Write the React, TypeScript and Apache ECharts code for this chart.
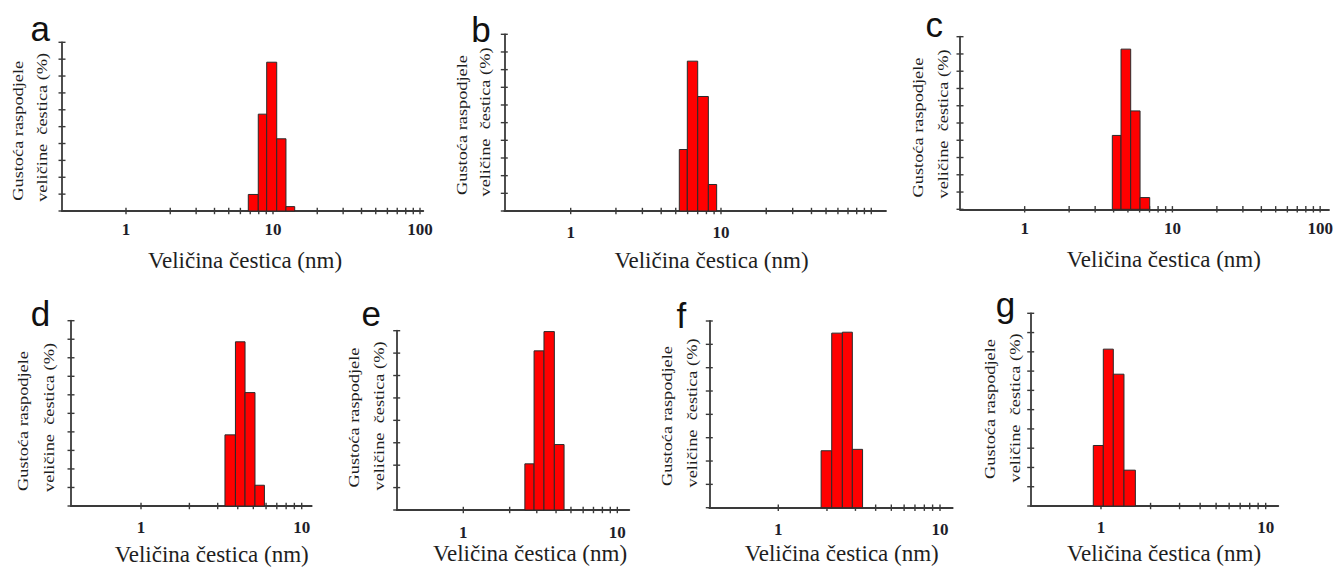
import React, { useEffect, useRef } from "react";
import * as echarts from "echarts";

// ---- data ----
const panelLetters = ["a", "b", "c", "d", "e", "f", "g"];

const binEdgesA = [6.79, 7.94, 9.06, 10.6, 12.25, 14.05];
const densityA = [4.9, 28.7, 44.1, 21.4, 1.3];

const binEdgesB = [5.28, 5.97, 7.0, 8.24, 9.36];
const densityB = [17.4, 42.4, 32.4, 7.5];

const binEdgesC = [3.92, 4.49, 5.22, 6.04, 7.02];
const densityC = [21.4, 46.4, 28.5, 3.4];

const binEdgesD = [3.33, 3.87, 4.44, 5.12, 5.86];
const densityD = [19.2, 44.3, 30.6, 5.6];

const binEdgesE = [2.51, 2.88, 3.34, 3.9, 4.51];
const densityE = [10.3, 35.5, 39.8, 14.6];

const binEdgesF = [1.84, 2.14, 2.49, 2.87, 3.32];
const densityF = [12.2, 37.4, 37.6, 12.5];

const binEdgesG = [0.898, 1.033, 1.188, 1.379, 1.617];
const densityG = [15.7, 40.7, 34.2, 9.3];

const xTickValues = [1, 2, 3, 4, 5, 6, 7, 8, 9, 10, 20, 30, 40, 50, 60, 70, 80, 90, 100];
const yTicks50 = [0, 5, 10, 15, 20, 25, 30, 35, 40, 45, 50];
const yTicks40 = [0, 5, 10, 15, 20, 25, 30, 35, 40];

const xLabelsA = [1, 10, 100];
const xLabelsB = [1, 10];
const xLabelsC = [1, 10, 100];
const xLabelsD = [1, 10];
const xLabelsE = [1, 10];
const xLabelsF = [1, 10];
const xLabelsG = [1, 10];

const yNameLine1 = "Gustoća raspodjele";
const yNameLine2 = "veličine  čestica (%)";
const xName = "Veličina čestica (nm)";

// ---- layout (pixels) ----
const layouts = [
  { left: 62, top: 42.3, right: 423.3, bottom: 211, xMin: 0.367, xMax: 105.3, yMax: 50, margin: 9.5,
    letter: [30.4, 28], yn: [18, 130.8, 42, 127.3], xn: [245, 260] },
  { left: 504.3, top: 34.3, right: 886, bottom: 211, xMin: 0.3616, xMax: 125.3, yMax: 50, margin: 13,
    letter: [471.2, 29], yn: [462.3, 125, 485.7, 122], xn: [711.5, 260] },
  { left: 960, top: 36.7, right: 1329, bottom: 209.3, xMin: 0.365, xMax: 114.8, yMax: 50, margin: 11,
    letter: [925.6, 24.5], yn: [918, 127.5, 943, 124], xn: [1163.8, 259.5] },
  { left: 71, top: 320.7, right: 311.7, bottom: 506, xMin: 0.3667, xMax: 11.54, yMax: 50, margin: 13,
    letter: [30.8, 313], yn: [23, 421, 49, 417.5], xn: [211.7, 554.5] },
  { left: 396.7, top: 330.7, right: 629.3, bottom: 510, xMin: 0.3694, xMax: 11.96, yMax: 40, margin: 14,
    letter: [361.6, 313], yn: [354.5, 417.5, 379, 416], xn: [530, 553.5] },
  { left: 709.3, top: 321, right: 952.7, bottom: 507.7, xMin: 0.3745, xMax: 11.98, yMax: 40, margin: 12.8,
    letter: [676.5, 315], yn: [667, 416, 692.3, 413], xn: [841.7, 553.5] },
  { left: 1030.7, top: 313.3, right: 1278.3, bottom: 506, xMin: 0.3743, xMax: 11.93, yMax: 50, margin: 13,
    letter: [995.8, 304], yn: [990.7, 409, 1015.7, 408], xn: [1164, 553.5] },
];

const panelEdges = [binEdgesA, binEdgesB, binEdgesC, binEdgesD, binEdgesE, binEdgesF, binEdgesG];
const panelDensity = [densityA, densityB, densityC, densityD, densityE, densityF, densityG];
const panelXLabels = [xLabelsA, xLabelsB, xLabelsC, xLabelsD, xLabelsE, xLabelsF, xLabelsG];

const AXIS_COLOR = "#3a3a3a";
const SERIF = "Liberation Serif";
const SANS = "Liberation Sans";

function buildOption() {
  const grid: any[] = [];
  const xAxis: any[] = [];
  const yAxis: any[] = [];
  const series: any[] = [];
  const graphic: any[] = [];

  layouts.forEach((L, i) => {
    grid.push({
      left: L.left,
      top: L.top,
      width: L.right - L.left,
      height: L.bottom - L.top,
      containLabel: false,
    });
    const labels = panelXLabels[i];
    xAxis.push({
      type: "log",
      logBase: 10,
      gridIndex: i,
      min: L.xMin,
      max: L.xMax,
      axisLine: { show: true, lineStyle: { color: AXIS_COLOR, width: 1.8 } },
      axisTick: { show: false },
      splitLine: { show: false },
      axisLabel: {
        show: true,
        margin: L.margin,
        fontFamily: SERIF,
        fontWeight: "bold",
        fontSize: 17,
        color: "#1e1e2a",
        showMinLabel: true,
        showMaxLabel: true,
        formatter: (v: number) => {
          const hit = labels.find((l) => Math.abs(v - l) / l < 1e-6);
          return hit !== undefined ? String(hit) : "";
        },
      },
    });
    yAxis.push({
      type: "value",
      gridIndex: i,
      min: 0,
      max: L.yMax,
      interval: 5,
      axisLine: { show: true, lineStyle: { color: AXIS_COLOR, width: 1.8 } },
      axisTick: { show: false },
      axisLabel: { show: false },
      splitLine: { show: false },
    });

    // tick marks (crossing the axes), placed through the axes' scales
    const yTicks = L.yMax === 40 ? yTicks40 : yTicks50;
    const tickData: number[][] = [];
    xTickValues
      .filter((v) => v >= L.xMin && v <= L.xMax)
      .forEach((v) => tickData.push([v, 0, 0]));
    yTicks.forEach((v) => tickData.push([L.xMin, v, 1]));
    series.push({
      type: "custom",
      xAxisIndex: i,
      yAxisIndex: i,
      z: 1,
      silent: true,
      encode: { x: 0, y: 1 },
      data: tickData,
      renderItem: (params: any, api: any) => {
        const p = api.coord([api.value(0), api.value(1)]);
        const kind = api.value(2);
        const shape =
          kind === 0
            ? { x1: p[0], y1: p[1] - 3.2, x2: p[0], y2: p[1] + 3.2 }
            : { x1: p[0] - 3.5, y1: p[1], x2: p[0] + 3.5, y2: p[1] };
        return {
          type: "line",
          shape,
          style: { stroke: AXIS_COLOR, lineWidth: 1.4 },
        };
      },
    });

    // histogram bars on log bins
    const edges = panelEdges[i];
    const dens = panelDensity[i];
    const barData = dens.map((d, k) => [edges[k], edges[k + 1], d]);
    series.push({
      type: "custom",
      xAxisIndex: i,
      yAxisIndex: i,
      z: 3,
      encode: { x: [0, 1], y: 2 },
      data: barData,
      renderItem: (params: any, api: any) => {
        const p0 = api.coord([api.value(0), 0]);
        const p1 = api.coord([api.value(1), api.value(2)]);
        return {
          type: "rect",
          shape: { x: p0[0], y: p1[1], width: p1[0] - p0[0], height: p0[1] - p1[1] },
          style: { fill: "#ff0000", stroke: "#2a2a2a", lineWidth: 1 },
        };
      },
    });

    // panel letter
    graphic.push({
      type: "text",
      x: L.letter[0],
      y: L.letter[1],
      style: {
        text: panelLetters[i],
        fontFamily: SANS,
        fontSize: 35,
        fill: "#111",
        align: "left",
        verticalAlign: "middle",
      },
    });
    // y-axis name, two rotated lines
    graphic.push({
      type: "text",
      x: L.yn[0],
      y: L.yn[1],
      rotation: Math.PI / 2,
      scaleX: 1.31,
      style: {
        text: yNameLine1,
        fontFamily: SERIF,
        fontSize: 14,
        fill: "#1e1e1e",
        align: "center",
        verticalAlign: "middle",
      },
    });
    graphic.push({
      type: "text",
      x: L.yn[2],
      y: L.yn[3],
      rotation: Math.PI / 2,
      scaleX: 1.31,
      style: {
        text: yNameLine2,
        fontFamily: SERIF,
        fontSize: 14,
        fill: "#1e1e1e",
        align: "center",
        verticalAlign: "middle",
      },
    });
    // x-axis name
    graphic.push({
      type: "text",
      x: L.xn[0],
      y: L.xn[1],
      style: {
        text: xName,
        fontFamily: SERIF,
        fontSize: 23,
        fill: "#1e1e1e",
        align: "center",
        verticalAlign: "middle",
      },
    });
  });

  return {
    animation: false,
    backgroundColor: "#ffffff",
    grid,
    xAxis,
    yAxis,
    series,
    graphic,
  };
}

export default function App() {
  const ref = useRef<HTMLDivElement>(null);
  useEffect(() => {
    if (!ref.current) return;
    const chart = echarts.init(ref.current, undefined, { renderer: "svg" });
    chart.setOption(buildOption() as any);
    return () => chart.dispose();
  }, []);
  return (
    <div
      ref={ref}
      style={{ position: "fixed", left: 0, top: 0, width: 1344, height: 568 }}
    />
  );
}
